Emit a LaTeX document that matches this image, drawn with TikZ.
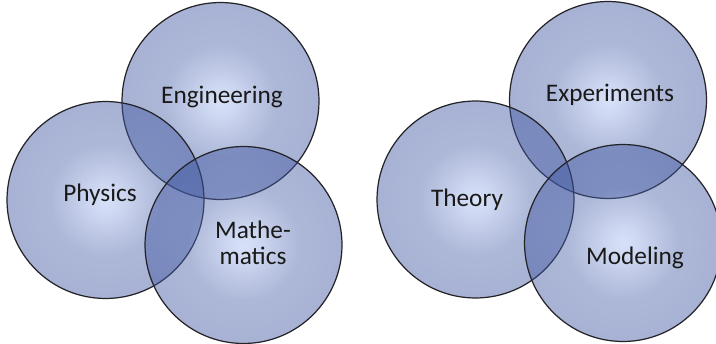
\documentclass[tikz,border=0pt]{standalone}
\usepackage{fontspec}
\setmainfont{Carlito}
\usepackage{tikz}
\usetikzlibrary{positioning}
\definecolor{vnIn}  {RGB}{166,188,240}
\definecolor{vnOut} {RGB}{ 61, 84,159}
\definecolor{vnLine}{RGB}{ 35, 35, 40}
\pgfdeclareradialshading{vnball}{\pgfpoint{0bp}{0bp}}{%
  color(0bp)=(vnIn); color(4bp)=(vnIn!80!vnOut); color(14bp)=(vnOut!88!vnIn);
  color(25bp)=(vnOut); color(50bp)=(vnOut)}

\begin{document}
\begin{tikzpicture}[
  x=0.02cm, y=-0.02cm,
  every node/.style={font=\fontsize{14.4}{15}\selectfont},
  ball/.style={circle,draw=vnLine,line width=0.7pt,inner sep=0pt,
               minimum size=3.94cm,shading=vnball,fill opacity=0.45,
               draw opacity=1},
  word/.style={align=center,text=black!90}
]
\useasboundingbox (0,0) rectangle (716,344);

% left group
\node[ball] (Eng)  at (220.5,101) {};
\node[ball] (Phy)  at (105.5,200) {};
\node[ball] (Math) at (243.5,245) {};
\node[word] (tEng)  at (222,97)  {Engineering};
\node[word] (tPhy)  at (100,195) {Physics};
\node[word] (tMath) at (253,243) {Mathe-\\matics};

% right group
\node[ball] (Exp)  at (608,100)   {};
\node[ball] (Thy)  at (475.5,199.5) {};
\node[ball] (Mod)  at (623,243)   {};
\node[word] (tExp) at (610,95)  {Experiments};
\node[word] (tThy) at (467,200) {Theory};
\node[word] (tMod) at (635,258) {Modeling};
\end{tikzpicture}
\end{document}
